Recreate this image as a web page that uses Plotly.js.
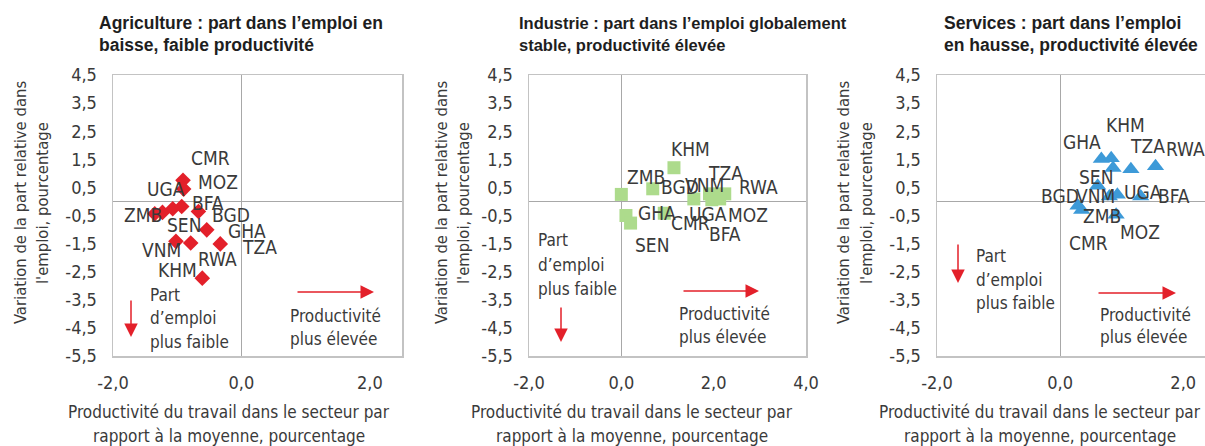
<!DOCTYPE html>
<html><head><meta charset="utf-8">
<script src="https://cdn.plot.ly/plotly-3.0.1.min.js"></script>
<style>html,body{margin:0;padding:0;overflow:hidden;background:#fff}#chart{width:1230px;height:446px}</style>
</head><body><div id="chart"></div>
<script>
// ---------- DATA ----------
const agriCountries = ['CMR','MOZ','ZMB','UGA','SEN','BGD','BFA','GHA','VNM','RWA','TZA','KHM'];
const agriX = [-0.91,-0.90,-1.35,-1.23,-1.07,-0.93,-0.67,-0.54,-1.02,-0.79,-0.33,-0.61];
const agriY = [0.75,0.44,-0.44,-0.39,-0.26,-0.18,-0.36,-1.01,-1.42,-1.48,-1.51,-2.73];

const indCountries = ['KHM','ZMB','BGD','GHA','SEN','CMR','UGA','VNM','TZA','RWA','BFA','MOZ'];
const indX = [1.14,0.00,0.68,0.10,0.20,0.93,1.57,1.91,2.10,2.24,1.96,2.13];
const indY = [1.20,0.25,0.45,-0.50,-0.77,-0.42,0.09,0.27,0.25,0.27,0.06,0.09];

const servCountries = ['GHA','KHM','BFA','TZA','RWA','SEN','ZMB','VNM','UGA','BGD','CMR','MOZ'];
const servX = [0.67,0.83,0.86,1.15,1.55,0.61,0.80,0.93,1.31,0.29,0.35,0.91];
const servY = [1.51,1.54,1.19,1.15,1.25,0.56,0.18,0.24,0.18,-0.15,-0.30,-0.47];

const yTickVals = [-5.5,-4.5,-3.5,-2.5,-1.5,-0.5,0.5,1.5,2.5,3.5,4.5];
const yTickText = ['-5,5','-4,5','-3,5','-2,5','-1,5','-0,5','0,5','1,5','2,5','3,5','4,5'];
const xTickValsA = [-2,0,2];   const xTickTextA = ['-2,0','0,0','2,0'];
const xTickValsI = [-2,0,2,4]; const xTickTextI = ['-2,0','0,0','2,0','4,0'];
const xTickValsS = [-2,0,2];   const xTickTextS = ['-2,0','0,0','2,0'];

const panelTitles = [
  ['Agriculture : part dans l’emploi en','baisse, faible productivité'],
  ['Industrie : part dans l’emploi globalement','stable, productivité élevée'],
  ['Services : part dans l’emploi','en hausse, productivité élevée']
];
const yTitleLines = ['Variation de la part relative dans', "l'emploi, pourcentage"];
const xTitleLines = ['Productivité du travail dans le secteur par','rapport à la moyenne, pourcentage'];
const noteDown = ['Part','d’emploi','plus faible'];
const noteRight = ['Productivité','plus élevée'];

// ---------- STYLE ----------
const W = 1230, H = 446;
const FONT = '"DejaVu Sans Condensed","Liberation Sans Narrow",sans-serif';
const BOLD = '"Liberation Sans",Arial,sans-serif';
const TXT = '#3a3a3a';
const RED = '#e3202a';
// label pixel shifts [dx, dy(down)]
const agriShift = [[27,-22],[34,-7],[-12,1],[4,-23],[11,16],[49,8],[10,-9],[40,1],[-14,9],[27,16],[39,3],[-25,-8]];
const indShift = [[17,-19],[25,-17],[27,-2],[31,-3],[21,22],[26,10],[14,15],[-5,-9],[7,-21],[34,-7],[13,34],[28,16]];
const servShift = [[-19,-17],[14,-33],[61,28],[17,-23],[30,-17],[-2,-9],[-7,20],[-22,1],[2,-4],[-18,-10],[7,33],[24,17]];

const panels = [
  {xd:[113,402], xr:[-2,2.5], tv:xTickValsA, tt:xTickTextA, xa:'x', ya:'y', ytx:[20,42], xtc:229, tx:97, tsz:17.5,
   down:{x:131, y0:299, y1:337}, right:{y:292, x0:296, x1:374}, downTxt:{x:148, ys:[295,318,342]}, rightTxt:{x:288, ys:[316,339]}},
  {xd:[529,806], xr:[-2,4], tv:xTickValsI, tt:xTickTextI, xa:'x2', ya:'y2', ytx:[441,463], xtc:632, tx:517, tsz:16.5,
   down:{x:561, y0:306, y1:342}, right:{y:291, x0:682, x1:759}, downTxt:{x:536, ys:[240,265,289]}, rightTxt:{x:677, ys:[314,337]}},
  {xd:[937,1214], xr:[-2,2.5], tv:xTickValsS, tt:xTickTextS, xa:'x3', ya:'y3', ytx:[843,866], xtc:1040, tx:942, tsz:17.5,
   down:{x:958, y0:243, y1:283}, right:{y:293, x0:1097, x1:1176}, downTxt:{x:974, ys:[256,280,303]}, rightTxt:{x:1098, ys:[315,337]}}
];
const series = [
  {c:agriCountries, x:agriX, y:agriY, sh:agriShift, sym:'diamond', col:'#e3202a', size:12},
  {c:indCountries, x:indX, y:indY, sh:indShift, sym:'square', col:'#addb8c', size:13},
  {c:servCountries, x:servX, y:servY, sh:servShift, sym:'triangle-up', col:'#3d9ad8', size:15}
];

const px = v => v / W, py = v => 1 - v / H;
const data = [], annotations = [], layout = {
  width: W, height: H, margin:{l:0,r:0,t:0,b:0}, paper_bgcolor:'#fff', plot_bgcolor:'#fff',
  showlegend:false, font:{family:FONT, color:TXT}
};

panels.forEach((p, i) => {
  const s = series[i];
  const n = i === 0 ? '' : String(i + 1);
  layout['xaxis' + n] = {
    domain:[px(p.xd[0]), px(p.xd[1])], range:p.xr, anchor:p.ya, tickvals:p.tv, ticktext:p.tt,
    showgrid:false, zeroline:true, zerolinecolor:'#a8a8a8', zerolinewidth:1,
    showline:true, linecolor:'#c3c3c3', linewidth:1.5, mirror:true, ticks:'',
    tickfont:{family:FONT, size:18, color:TXT}, ticklabelstandoff:10, fixedrange:true
  };
  layout['yaxis' + n] = {
    domain:[py(356), py(75)], range:[-5.5,4.5], anchor:p.xa, tickvals:yTickVals, ticktext:yTickText,
    showgrid:false, zeroline:true, zerolinecolor:'#a8a8a8', zerolinewidth:1,
    showline:true, linecolor:'#c3c3c3', linewidth:1.5, mirror:true, ticks:'',
    tickfont:{family:FONT, size:18, color:TXT}, ticklabelstandoff:11, fixedrange:true
  };
  data.push({
    type:'scatter', mode:'markers', x:s.x, y:s.y, xaxis:p.xa, yaxis:p.ya,
    marker:{symbol:s.sym, color:s.col, size:s.size, line:{width:0}}, hoverinfo:'skip'
  });
  s.c.forEach((c, k) => annotations.push({
    xref:p.xa, yref:p.ya, x:s.x[k], y:s.y[k], text:c, showarrow:false,
    xshift:s.sh[k][0], yshift:-s.sh[k][1], xanchor:'center', yanchor:'middle',
    font:{family:FONT, size:19, color:TXT}
  }));
  panelTitles[i].forEach((t, k) => annotations.push({
    xref:'paper', yref:'paper', x:px(p.tx), y:py(23 + 22 * k), text:'<b>' + t + '</b>', showarrow:false,
    xanchor:'left', yanchor:'middle', font:{family:BOLD, size:p.tsz, color:'#1e1e1e'}
  }));
  yTitleLines.forEach((t, k) => annotations.push({
    xref:'paper', yref:'paper', x:px(p.ytx[k]), y:py(203), text:t, showarrow:false, textangle:-90,
    xanchor:'center', yanchor:'middle', font:{family:FONT, size:16.5, color:TXT}
  }));
  xTitleLines.forEach((t, k) => annotations.push({
    xref:'paper', yref:'paper', x:px(p.xtc), y:py(412 + 24 * k), text:t, showarrow:false,
    xanchor:'center', yanchor:'middle', font:{family:FONT, size:17, color:TXT}
  }));
  annotations.push({xref:'paper', yref:'paper', x:px(p.down.x), y:py(p.down.y1), ax:0, ay:p.down.y0 - p.down.y1,
    text:'', showarrow:true, arrowhead:2, arrowsize:1.8, arrowwidth:1.5, arrowcolor:RED, standoff:0});
  annotations.push({xref:'paper', yref:'paper', x:px(p.right.x1), y:py(p.right.y), ax:p.right.x0 - p.right.x1, ay:0,
    text:'', showarrow:true, arrowhead:2, arrowsize:1.8, arrowwidth:1.5, arrowcolor:RED, standoff:0});
  noteDown.forEach((t, k) => annotations.push({
    xref:'paper', yref:'paper', x:px(p.downTxt.x), y:py(p.downTxt.ys[k]), text:t, showarrow:false,
    xanchor:'left', yanchor:'middle', font:{family:FONT, size:17, color:TXT}
  }));
  noteRight.forEach((t, k) => annotations.push({
    xref:'paper', yref:'paper', x:px(p.rightTxt.x), y:py(p.rightTxt.ys[k]), text:t, showarrow:false,
    xanchor:'left', yanchor:'middle', font:{family:FONT, size:17, color:TXT}
  }));
});
layout.annotations = annotations;
Plotly.newPlot('chart', data, layout, {staticPlot:true, displayModeBar:false});
</script></body></html>
